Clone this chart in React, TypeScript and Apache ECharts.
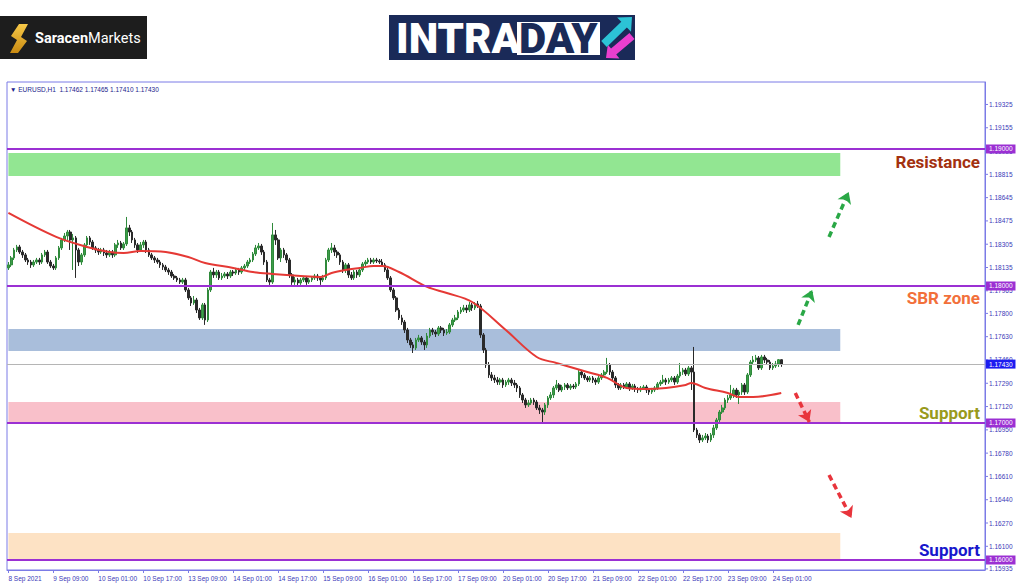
import React, { useEffect, useRef } from 'react';
import * as echarts from 'echarts';

// ---------- DATA ----------
const xTickLabels = [
  '8 Sep 2021', '9 Sep 09:00', '10 Sep 01:00', '10 Sep 17:00', '13 Sep 09:00', '14 Sep 01:00',
  '14 Sep 17:00', '15 Sep 09:00', '16 Sep 01:00', '16 Sep 17:00', '17 Sep 09:00', '20 Sep 01:00',
  '20 Sep 17:00', '21 Sep 09:00', '22 Sep 01:00', '22 Sep 17:00', '23 Sep 09:00', '24 Sep 01:00',
];
const barsPerLabel = 16;
const slotCount = 348;

const yTickLabels = [
  '1.19325', '1.19155', '1.18985', '1.18815', '1.18645', '1.18475', '1.18305', '1.18135', '1.17965',
  '1.17800', '1.17630', '1.17460', '1.17290', '1.17120', '1.16950', '1.16780', '1.16610', '1.16440',
  '1.16270', '1.16100', '1.15935',
];

const headerText = '\u25BC EURUSD,H1  1.17462 1.17465 1.17410 1.17430';

const priceLevels = [1.19, 1.18, 1.17, 1.16];
const currentPrice = 1.1743;

// [top, bottom] of each zone
const zoneBounds = [
  [1.18971, 1.18803],
  [1.17686, 1.17526],
  [1.17153, 1.17007],
  [1.16197, 1.16007],
];
const zoneEndIndex = 296;

// [open, close, low, high] — EURUSD H1
const candles = [
  [1.18132, 1.18154, 1.18117, 1.18175], [1.18154, 1.18205, 1.18139, 1.18219], [1.18205, 1.18263, 1.18190, 1.18278],
  [1.18263, 1.18285, 1.18248, 1.18300], [1.18285, 1.18248, 1.18234, 1.18300], [1.18248, 1.18227, 1.18205, 1.18263],
  [1.18227, 1.18190, 1.18175, 1.18241], [1.18190, 1.18175, 1.18154, 1.18205], [1.18175, 1.18154, 1.18132, 1.18190],
  [1.18154, 1.18175, 1.18139, 1.18190], [1.18175, 1.18190, 1.18161, 1.18205], [1.18190, 1.18175, 1.18154, 1.18205],
  [1.18175, 1.18227, 1.18161, 1.18241], [1.18227, 1.18248, 1.18212, 1.18263], [1.18248, 1.18175, 1.18161, 1.18263],
  [1.18175, 1.18146, 1.18132, 1.18190], [1.18146, 1.18132, 1.18117, 1.18161], [1.18132, 1.18205, 1.18117, 1.18219],
  [1.18205, 1.18278, 1.18190, 1.18292], [1.18278, 1.18336, 1.18263, 1.18351], [1.18336, 1.18365, 1.18321, 1.18387],
  [1.18365, 1.18394, 1.18336, 1.18409], [1.18394, 1.18336, 1.18263, 1.18409], [1.18336, 1.18351, 1.18117, 1.18380],
  [1.18351, 1.18263, 1.18059, 1.18365], [1.18263, 1.18175, 1.18146, 1.18278], [1.18175, 1.18227, 1.18154, 1.18241],
  [1.18227, 1.18300, 1.18212, 1.18314], [1.18300, 1.18351, 1.18278, 1.18365], [1.18351, 1.18321, 1.18300, 1.18365],
  [1.18321, 1.18278, 1.18263, 1.18336], [1.18278, 1.18263, 1.18241, 1.18292], [1.18263, 1.18248, 1.18227, 1.18278],
  [1.18248, 1.18263, 1.18234, 1.18278], [1.18263, 1.18241, 1.18219, 1.18278], [1.18241, 1.18227, 1.18205, 1.18263],
  [1.18227, 1.18248, 1.18212, 1.18263], [1.18248, 1.18227, 1.18205, 1.18263], [1.18227, 1.18300, 1.18212, 1.18314],
  [1.18300, 1.18314, 1.18278, 1.18336], [1.18314, 1.18278, 1.18263, 1.18329], [1.18278, 1.18307, 1.18263, 1.18321],
  [1.18307, 1.18424, 1.18292, 1.18504], [1.18424, 1.18394, 1.18365, 1.18446], [1.18394, 1.18336, 1.18314, 1.18409],
  [1.18336, 1.18300, 1.18278, 1.18351], [1.18300, 1.18263, 1.18241, 1.18314], [1.18263, 1.18300, 1.18248, 1.18321],
  [1.18300, 1.18321, 1.18278, 1.18336], [1.18321, 1.18263, 1.18241, 1.18336], [1.18263, 1.18227, 1.18212, 1.18278],
  [1.18227, 1.18205, 1.18190, 1.18241], [1.18205, 1.18190, 1.18168, 1.18219], [1.18190, 1.18175, 1.18161, 1.18205],
  [1.18175, 1.18154, 1.18132, 1.18190], [1.18154, 1.18139, 1.18117, 1.18168], [1.18139, 1.18117, 1.18102, 1.18154],
  [1.18117, 1.18102, 1.18081, 1.18132], [1.18102, 1.18073, 1.18059, 1.18117], [1.18073, 1.18059, 1.18044, 1.18088],
  [1.18059, 1.18044, 1.18029, 1.18073], [1.18044, 1.18029, 1.18015, 1.18059], [1.18029, 1.18044, 1.18015, 1.18059],
  [1.18044, 1.17971, 1.17956, 1.18059], [1.17971, 1.17913, 1.17898, 1.17986], [1.17913, 1.17876, 1.17854, 1.17927],
  [1.17876, 1.17898, 1.17862, 1.17927], [1.17898, 1.17825, 1.17803, 1.17913], [1.17825, 1.17767, 1.17752, 1.17840],
  [1.17767, 1.17862, 1.17752, 1.17876], [1.17862, 1.17752, 1.17716, 1.17876], [1.17752, 1.17971, 1.17737, 1.17986],
  [1.17971, 1.18102, 1.17956, 1.18117], [1.18102, 1.18081, 1.18059, 1.18132], [1.18081, 1.18102, 1.18059, 1.18117],
  [1.18102, 1.18059, 1.18044, 1.18117], [1.18059, 1.18073, 1.18044, 1.18095], [1.18073, 1.18088, 1.18059, 1.18102],
  [1.18088, 1.18073, 1.18051, 1.18102], [1.18073, 1.18102, 1.18059, 1.18117], [1.18102, 1.18095, 1.18073, 1.18117],
  [1.18095, 1.18117, 1.18081, 1.18132], [1.18117, 1.18102, 1.18081, 1.18132], [1.18102, 1.18132, 1.18088, 1.18146],
  [1.18132, 1.18146, 1.18117, 1.18161], [1.18146, 1.18175, 1.18132, 1.18190], [1.18175, 1.18190, 1.18161, 1.18205],
  [1.18190, 1.18234, 1.18175, 1.18248], [1.18234, 1.18278, 1.18219, 1.18300], [1.18278, 1.18292, 1.18263, 1.18314],
  [1.18292, 1.18248, 1.18227, 1.18307], [1.18248, 1.18175, 1.18154, 1.18263], [1.18175, 1.18044, 1.18029, 1.18190],
  [1.18044, 1.18029, 1.18008, 1.18059], [1.18029, 1.18373, 1.18015, 1.18460], [1.18373, 1.18336, 1.18300, 1.18409],
  [1.18336, 1.18205, 1.18190, 1.18351], [1.18205, 1.18263, 1.18175, 1.18278], [1.18263, 1.18227, 1.18205, 1.18278],
  [1.18227, 1.18190, 1.18168, 1.18241], [1.18190, 1.18081, 1.18059, 1.18205], [1.18081, 1.18029, 1.18008, 1.18095],
  [1.18029, 1.18044, 1.18008, 1.18066], [1.18044, 1.18022, 1.18000, 1.18059], [1.18022, 1.18044, 1.18008, 1.18059],
  [1.18044, 1.18059, 1.18029, 1.18073], [1.18059, 1.18029, 1.18008, 1.18073], [1.18029, 1.18044, 1.18015, 1.18059],
  [1.18044, 1.18059, 1.18029, 1.18073], [1.18059, 1.18073, 1.18044, 1.18088], [1.18073, 1.18059, 1.18037, 1.18088],
  [1.18059, 1.18044, 1.18008, 1.18073], [1.18044, 1.18059, 1.18029, 1.18081], [1.18059, 1.18190, 1.18044, 1.18205],
  [1.18190, 1.18263, 1.18175, 1.18278], [1.18263, 1.18278, 1.18241, 1.18314], [1.18278, 1.18248, 1.18219, 1.18300],
  [1.18248, 1.18227, 1.18205, 1.18263], [1.18227, 1.18175, 1.18154, 1.18241], [1.18175, 1.18117, 1.18095, 1.18190],
  [1.18117, 1.18154, 1.18095, 1.18168], [1.18154, 1.18081, 1.18059, 1.18168], [1.18081, 1.18059, 1.18044, 1.18102],
  [1.18059, 1.18102, 1.18044, 1.18117], [1.18102, 1.18081, 1.18059, 1.18117], [1.18081, 1.18117, 1.18066, 1.18132],
  [1.18117, 1.18161, 1.18102, 1.18175], [1.18161, 1.18175, 1.18146, 1.18190], [1.18175, 1.18190, 1.18161, 1.18205],
  [1.18190, 1.18175, 1.18161, 1.18205], [1.18175, 1.18190, 1.18161, 1.18205], [1.18190, 1.18183, 1.18168, 1.18205],
  [1.18183, 1.18175, 1.18161, 1.18197], [1.18175, 1.18154, 1.18139, 1.18197], [1.18154, 1.18117, 1.18102, 1.18168],
  [1.18117, 1.18059, 1.18044, 1.18132], [1.18059, 1.17971, 1.17956, 1.18073], [1.17971, 1.17913, 1.17898, 1.17986],
  [1.17913, 1.17825, 1.17810, 1.17927], [1.17825, 1.17767, 1.17752, 1.17840], [1.17767, 1.17737, 1.17716, 1.17789],
  [1.17737, 1.17679, 1.17657, 1.17752], [1.17679, 1.17606, 1.17584, 1.17694], [1.17606, 1.17570, 1.17548, 1.17621],
  [1.17570, 1.17548, 1.17511, 1.17591], [1.17548, 1.17606, 1.17533, 1.17621], [1.17606, 1.17621, 1.17591, 1.17643],
  [1.17621, 1.17591, 1.17570, 1.17635], [1.17591, 1.17570, 1.17533, 1.17606], [1.17570, 1.17635, 1.17548, 1.17657],
  [1.17635, 1.17679, 1.17621, 1.17694], [1.17679, 1.17664, 1.17643, 1.17694], [1.17664, 1.17650, 1.17628, 1.17679],
  [1.17650, 1.17694, 1.17635, 1.17708], [1.17694, 1.17679, 1.17657, 1.17708], [1.17679, 1.17657, 1.17635, 1.17694],
  [1.17657, 1.17664, 1.17643, 1.17686], [1.17664, 1.17716, 1.17650, 1.17730], [1.17716, 1.17752, 1.17701, 1.17767],
  [1.17752, 1.17767, 1.17737, 1.17789], [1.17767, 1.17810, 1.17752, 1.17825], [1.17810, 1.17825, 1.17796, 1.17847],
  [1.17825, 1.17840, 1.17810, 1.17862], [1.17840, 1.17825, 1.17803, 1.17862], [1.17825, 1.17862, 1.17810, 1.17883],
  [1.17862, 1.17840, 1.17818, 1.17876], [1.17840, 1.17869, 1.17825, 1.17883], [1.17869, 1.17854, 1.17840, 1.17891],
  [1.17854, 1.17643, 1.17621, 1.17869], [1.17643, 1.17533, 1.17511, 1.17657], [1.17533, 1.17424, 1.17402, 1.17548],
  [1.17424, 1.17351, 1.17329, 1.17445], [1.17351, 1.17329, 1.17307, 1.17372], [1.17329, 1.17314, 1.17292, 1.17351],
  [1.17314, 1.17299, 1.17278, 1.17336], [1.17299, 1.17314, 1.17278, 1.17329], [1.17314, 1.17278, 1.17256, 1.17329],
  [1.17278, 1.17299, 1.17263, 1.17314], [1.17299, 1.17314, 1.17278, 1.17329], [1.17314, 1.17292, 1.17270, 1.17329],
  [1.17292, 1.17278, 1.17256, 1.17314], [1.17278, 1.17256, 1.17226, 1.17292], [1.17256, 1.17205, 1.17183, 1.17270],
  [1.17205, 1.17168, 1.17146, 1.17219], [1.17168, 1.17132, 1.17110, 1.17183], [1.17132, 1.17146, 1.17117, 1.17168],
  [1.17146, 1.17168, 1.17132, 1.17183], [1.17168, 1.17153, 1.17132, 1.17183], [1.17153, 1.17110, 1.17095, 1.17168],
  [1.17110, 1.17095, 1.17066, 1.17132], [1.17095, 1.17080, 1.17007, 1.17110], [1.17080, 1.17132, 1.17059, 1.17146],
  [1.17132, 1.17183, 1.17110, 1.17197], [1.17183, 1.17205, 1.17168, 1.17226], [1.17205, 1.17256, 1.17183, 1.17270],
  [1.17256, 1.17278, 1.17241, 1.17314], [1.17278, 1.17241, 1.17226, 1.17292], [1.17241, 1.17263, 1.17226, 1.17278],
  [1.17263, 1.17278, 1.17241, 1.17292], [1.17278, 1.17256, 1.17241, 1.17292], [1.17256, 1.17270, 1.17241, 1.17285],
  [1.17270, 1.17263, 1.17248, 1.17285], [1.17263, 1.17285, 1.17248, 1.17299], [1.17285, 1.17372, 1.17270, 1.17387],
  [1.17372, 1.17351, 1.17329, 1.17387], [1.17351, 1.17329, 1.17314, 1.17365], [1.17329, 1.17314, 1.17299, 1.17343],
  [1.17314, 1.17329, 1.17299, 1.17343], [1.17329, 1.17314, 1.17292, 1.17343], [1.17314, 1.17299, 1.17278, 1.17329],
  [1.17299, 1.17329, 1.17285, 1.17343], [1.17329, 1.17351, 1.17314, 1.17365], [1.17351, 1.17372, 1.17336, 1.17387],
  [1.17372, 1.17424, 1.17358, 1.17475], [1.17424, 1.17372, 1.17351, 1.17438], [1.17372, 1.17329, 1.17314, 1.17387],
  [1.17329, 1.17278, 1.17256, 1.17343], [1.17278, 1.17256, 1.17241, 1.17292], [1.17256, 1.17278, 1.17241, 1.17292],
  [1.17278, 1.17263, 1.17248, 1.17292], [1.17263, 1.17285, 1.17248, 1.17299], [1.17285, 1.17256, 1.17234, 1.17299],
  [1.17256, 1.17270, 1.17241, 1.17285], [1.17270, 1.17248, 1.17226, 1.17285], [1.17248, 1.17241, 1.17219, 1.17263],
  [1.17241, 1.17256, 1.17226, 1.17270], [1.17256, 1.17263, 1.17241, 1.17278], [1.17263, 1.17241, 1.17219, 1.17278],
  [1.17241, 1.17226, 1.17205, 1.17256], [1.17226, 1.17241, 1.17212, 1.17256], [1.17241, 1.17256, 1.17226, 1.17270],
  [1.17256, 1.17285, 1.17241, 1.17299], [1.17285, 1.17299, 1.17270, 1.17314], [1.17299, 1.17314, 1.17285, 1.17351],
  [1.17314, 1.17299, 1.17278, 1.17329], [1.17299, 1.17314, 1.17285, 1.17329], [1.17314, 1.17329, 1.17299, 1.17343],
  [1.17329, 1.17299, 1.17278, 1.17343], [1.17299, 1.17343, 1.17285, 1.17358], [1.17343, 1.17372, 1.17329, 1.17438],
  [1.17372, 1.17387, 1.17351, 1.17402], [1.17387, 1.17358, 1.17343, 1.17402], [1.17358, 1.17402, 1.17343, 1.17416],
  [1.17402, 1.17372, 1.17241, 1.17416], [1.17372, 1.16949, 1.16934, 1.17555], [1.16949, 1.16913, 1.16891, 1.16964],
  [1.16913, 1.16876, 1.16854, 1.16927], [1.16876, 1.16891, 1.16861, 1.16913], [1.16891, 1.16905, 1.16876, 1.16927],
  [1.16905, 1.16876, 1.16854, 1.16920], [1.16876, 1.16913, 1.16861, 1.16927], [1.16913, 1.16964, 1.16891, 1.16986],
  [1.16964, 1.17022, 1.16949, 1.17037], [1.17022, 1.17080, 1.17007, 1.17095], [1.17080, 1.17110, 1.17066, 1.17132],
  [1.17110, 1.17168, 1.17095, 1.17183], [1.17168, 1.17183, 1.17146, 1.17205], [1.17183, 1.17205, 1.17168, 1.17278],
  [1.17205, 1.17241, 1.17183, 1.17256], [1.17241, 1.17205, 1.17183, 1.17256], [1.17205, 1.17226, 1.17139, 1.17241],
  [1.17226, 1.17278, 1.17205, 1.17292], [1.17278, 1.17226, 1.17205, 1.17292], [1.17226, 1.17351, 1.17212, 1.17365],
  [1.17351, 1.17445, 1.17336, 1.17460], [1.17445, 1.17460, 1.17424, 1.17489], [1.17460, 1.17475, 1.17445, 1.17497],
  [1.17475, 1.17402, 1.17387, 1.17489], [1.17402, 1.17482, 1.17387, 1.17497], [1.17482, 1.17460, 1.17438, 1.17497],
  [1.17460, 1.17445, 1.17424, 1.17475], [1.17445, 1.17402, 1.17387, 1.17460], [1.17402, 1.17416, 1.17387, 1.17438],
  [1.17416, 1.17431, 1.17402, 1.17453], [1.17431, 1.17462, 1.17409, 1.17467], [1.17462, 1.17430, 1.17410, 1.17465],
];

// moving average read at selected bars: [barIndex, value]
const maPoints = [
  [0, 1.18533], [17, 1.18358], [28, 1.18285], [36, 1.18248], [41, 1.18241], [47, 1.18256], [56, 1.18248],
  [64, 1.18212], [70, 1.18168], [80, 1.18132], [87, 1.18102], [94, 1.18088], [104, 1.18073], [111, 1.18066],
  [115, 1.18095], [120, 1.18117], [125, 1.18132], [130, 1.18146], [133, 1.18146], [139, 1.18102],
  [149, 1.17993], [156, 1.17949], [165, 1.17883], [177, 1.17679], [188, 1.17482], [195, 1.17438],
  [206, 1.17372], [213, 1.17329], [220, 1.17256], [227, 1.17248], [234, 1.17256], [241, 1.17278],
  [243, 1.17292], [248, 1.17256], [256, 1.17219], [260, 1.1719], [265, 1.1719], [275, 1.17219],
];

// annotation arrows: [[tailBar, tailPrice], [headBar, headPrice]]
const upArrows = [
  [[292, 1.18358], [299, 1.18686]],
  [[281, 1.17716], [286, 1.17971]],
];
const downArrows = [
  [[280, 1.17219], [285, 1.17007]],
  [[292, 1.1662], [300, 1.16307]],
];

// ---------- STYLE ----------
const FRAME = '#7b7be6';
const LABEL_BLUE = '#3a3ab8';
const LEVEL_PURPLE = '#9b30d3';
const zoneColors = ['#92e692', '#a9bedb', '#f9c0ca', '#fde2c4'];
const FONT = 'Liberation Sans, Arial, sans-serif';

function arrowPoly(tx: number, ty: number, hx: number, hy: number, sw: number, hw: number, hl: number) {
  const dx = hx - tx, dy = hy - ty;
  const len = Math.hypot(dx, dy);
  const ux = dx / len, uy = dy / len;
  const px = -uy, py = ux;
  const bx = hx - ux * hl, by = hy - uy * hl;
  return [
    [tx + (px * sw) / 2, ty + (py * sw) / 2],
    [bx + (px * sw) / 2, by + (py * sw) / 2],
    [bx + (px * hw) / 2, by + (py * hw) / 2],
    [hx, hy],
    [bx - (px * hw) / 2, by - (py * hw) / 2],
    [bx - (px * sw) / 2, by - (py * sw) / 2],
    [tx - (px * sw) / 2, ty - (py * sw) / 2],
  ];
}

function buildOption() {
  const categories = Array.from({ length: slotCount }, (_, i) => String(i));
  const showTick = (i: number) => i % barsPerLabel === 0 && i / barsPerLabel < xTickLabels.length;

  const levelLines = priceLevels.map((p) => ({
    yAxis: p,
    lineStyle: { color: LEVEL_PURPLE, width: 2, type: 'solid' },
    label: {
      show: true, position: 'end', distance: 1, formatter: p.toFixed(5), color: '#ffffff',
      backgroundColor: LEVEL_PURPLE, padding: [1, 3, 1, 3], fontSize: 6.5, fontFamily: FONT,
    },
  }));
  const curLine = {
    yAxis: currentPrice,
    lineStyle: { color: '#b5b5b5', width: 1, type: 'solid' },
    label: {
      show: true, position: 'end', distance: 1, formatter: currentPrice.toFixed(5), color: '#ffffff',
      backgroundColor: '#1c1cf0', padding: [1, 3, 1, 3], fontSize: 6.5, fontFamily: FONT,
    },
  };

  const arrowItem = (a: number[][], color: string) => [
    { coord: [String(a[0][0]), a[0][1]], lineStyle: { color, width: 3.5, type: [6, 4] }, itemStyle: { color } },
    { coord: [String(a[1][0]), a[1][1]] },
  ];

  const cyan = arrowPoly(604, 44, 632, 17, 8, 20, 11);
  const magenta = arrowPoly(632, 36, 606, 58, 8, 18, 10);

  return {
    animation: false,
    backgroundColor: '#ffffff',
    grid: { left: 7, right: 39, top: 82, bottom: 17, show: true, borderColor: FRAME, borderWidth: 1 },
    xAxis: {
      type: 'category',
      data: categories,
      boundaryGap: true,
      axisLine: { show: true, lineStyle: { color: FRAME } },
      axisTick: { show: true, alignWithLabel: true, interval: (i: number) => showTick(i), length: 3, lineStyle: { color: FRAME } },
      axisLabel: {
        interval: (i: number) => showTick(i),
        formatter: (_v: string, i: number) => xTickLabels[i / barsPerLabel] ?? '',
        align: 'left', fontSize: 6.5, color: LABEL_BLUE, fontFamily: FONT, margin: 5,
      },
      splitLine: { show: false },
    },
    yAxis: {
      type: 'value', min: 1.15927, max: 1.19489, position: 'right', scale: true,
      axisLine: { show: true, lineStyle: { color: FRAME } },
      axisTick: { show: false }, axisLabel: { show: false }, splitLine: { show: false },
    },
    series: [
      {
        type: 'candlestick',
        data: candles,
        barWidth: '75%',
        z: 2,
        itemStyle: { color: '#3d9c49', color0: '#2a2a2a', borderColor: '#2f8a3b', borderColor0: '#2a2a2a', borderWidth: 1 },
        markArea: {
          silent: true,
          data: zoneBounds.map((b, k) => [
            { xAxis: '0', yAxis: b[0], itemStyle: { color: zoneColors[k], opacity: 1 } },
            { xAxis: String(zoneEndIndex), yAxis: b[1] },
          ]),
        },
        markLine: { silent: true, symbol: 'none', precision: 5, data: [...levelLines, curLine] },
      },
      {
        type: 'line',
        data: maPoints,
        smooth: 0.35,
        showSymbol: false,
        z: 3,
        lineStyle: { color: '#e53935', width: 2 },
        markLine: {
          silent: true,
          symbol: ['none', 'arrow'],
          symbolSize: [11, 11],
          precision: 5,
          label: { show: false },
          data: [...upArrows.map((a) => arrowItem(a, '#2aa846')), ...downArrows.map((a) => arrowItem(a, '#e8343c'))],
        },
      },
      {
        type: 'custom',
        data: yTickLabels.map((l) => [0, parseFloat(l)]),
        clip: false,
        silent: true,
        z: 1,
        renderItem: (params: any, api: any) => {
          const y = api.coord([0, api.value(1)])[1];
          const cs = params.coordSys;
          const x0 = cs.x + cs.width;
          return {
            type: 'group',
            children: [
              { type: 'line', shape: { x1: x0, y1: y, x2: x0 + 3, y2: y }, style: { stroke: FRAME, lineWidth: 1 } },
              {
                type: 'text', x: x0 + 4, y,
                style: { text: yTickLabels[params.dataIndex], fontSize: 6.5, fontFamily: FONT, fill: LABEL_BLUE, verticalAlign: 'middle', align: 'left' },
              },
            ],
          };
        },
      },
    ],
    graphic: [
      // Saracen Markets logo
      { type: 'rect', shape: { x: 0, y: 16, width: 147, height: 43 }, style: { fill: '#1d1d1d' }, z: 10 },
      {
        type: 'polygon', z: 11,
        shape: { points: [[19, 24], [28, 24], [21, 37], [27, 41], [18, 53], [10, 53], [17, 40], [11, 36]] },
        style: {
          fill: new echarts.graphic.LinearGradient(0, 0, 0, 1, [
            { offset: 0, color: '#f7c948' }, { offset: 1, color: '#c98a12' },
          ]),
        },
      },
      {
        type: 'text', x: 35, y: 38, z: 11,
        style: {
          text: '{a|Saracen}{b|Markets}', verticalAlign: 'middle',
          rich: {
            a: { fontSize: 14.5, fontWeight: 'bold', fontFamily: 'Roboto, sans-serif', fill: '#ffffff', color: '#ffffff' },
            b: { fontSize: 14.5, fontFamily: 'Roboto, sans-serif', fill: '#ffffff', color: '#ffffff' },
          },
        },
      },
      // INTRADAY logo
      { type: 'rect', shape: { x: 389, y: 15, width: 246, height: 45 }, style: { fill: '#1a2a58' }, z: 10 },
      {
        type: 'text', x: 396, y: 38, z: 11,
        style: { text: 'INTRA', fontSize: 42, fontWeight: 900, fontFamily: 'Roboto, sans-serif', fill: '#ffffff', verticalAlign: 'middle' },
      },
      { type: 'rect', shape: { x: 517, y: 22, width: 83, height: 33 }, style: { fill: '#ffffff' }, z: 11 },
      {
        type: 'text', x: 519, y: 38.5, z: 12,
        style: { text: 'DAY', fontSize: 42, fontWeight: 900, fontFamily: 'Roboto, sans-serif', fill: '#1a2a58', verticalAlign: 'middle' },
      },
      { type: 'polygon', z: 12, shape: { points: magenta }, style: { fill: '#e93fcf' } },
      { type: 'polygon', z: 12, shape: { points: cyan }, style: { fill: '#2cc3d6' } },
      // chart header
      {
        type: 'text', x: 10, y: 89, z: 11,
        style: { text: headerText, fontSize: 6.5, fontFamily: FONT, fill: '#1c1c8c', verticalAlign: 'middle' },
      },
      // zone labels
      {
        type: 'text', x: 980, y: 162, z: 11,
        style: { text: 'Resistance', fontSize: 17, fontWeight: 'bold', fontFamily: 'Roboto, sans-serif', fill: '#a3310f', align: 'right', verticalAlign: 'middle' },
      },
      {
        type: 'text', x: 980, y: 298, z: 11,
        style: { text: 'SBR zone', fontSize: 17, fontWeight: 'bold', fontFamily: 'Roboto, sans-serif', fill: '#f2703a', align: 'right', verticalAlign: 'middle' },
      },
      {
        type: 'text', x: 980, y: 413, z: 11,
        style: { text: 'Support', fontSize: 17, fontWeight: 'bold', fontFamily: 'Roboto, sans-serif', fill: '#999a1c', align: 'right', verticalAlign: 'middle' },
      },
      {
        type: 'text', x: 980, y: 550, z: 11,
        style: { text: 'Support', fontSize: 17, fontWeight: 'bold', fontFamily: 'Roboto, sans-serif', fill: '#1717cc', align: 'right', verticalAlign: 'middle' },
      },
    ],
  };
}

export default function App() {
  const ref = useRef<HTMLDivElement>(null);
  useEffect(() => {
    if (!ref.current) return;
    const chart = echarts.init(ref.current, undefined, { renderer: 'svg' });
    chart.setOption(buildOption() as any);
    return () => chart.dispose();
  }, []);
  return (
    <div
      ref={ref}
      style={{ position: 'absolute', left: 0, top: 0, width: 1024, height: 587, background: '#ffffff' }}
    />
  );
}
